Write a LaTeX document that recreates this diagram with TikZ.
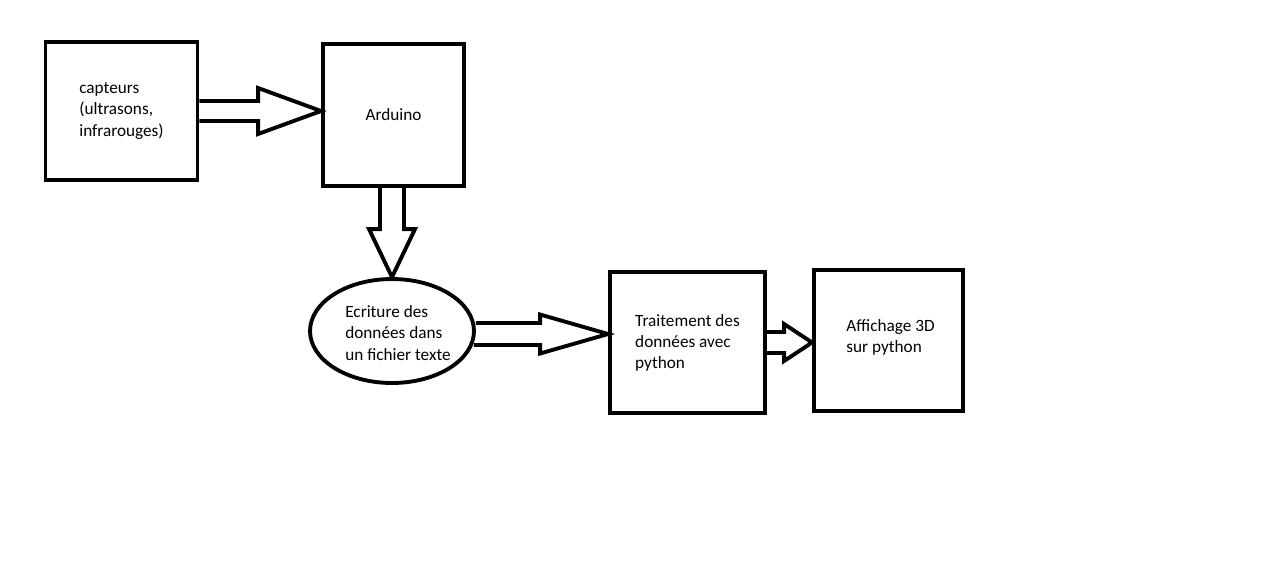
\documentclass[tikz,border=0pt]{standalone}
\usepackage{fontspec}
\setmainfont{Carlito}
\usetikzlibrary{calc,shapes.geometric}
\begin{document}
\begin{tikzpicture}[x=0.02cm, y=-0.02cm, line width=2.2pt, line join=miter,
    box/.style={draw, rectangle, inner sep=0pt, align=left,
      font=\fontsize{9.8}{12}\selectfont},
    oval/.style={draw, ellipse, inner sep=0pt, minimum width=3.28cm, minimum height=2.08cm},
    txt/.style={align=left, inner sep=0pt, font=\fontsize{9.8}{12}\selectfont},
    harrow/.style={draw, line width=2.2pt}]
  \useasboundingbox (0,0) rectangle (1280,575);
  \node[box, minimum width=3.04cm, minimum height=2.76cm] (capteurs) at (121.5,111)
    {capteurs\\(ultrasons,\\infrarouges)};
  \node[box, minimum width=2.82cm, minimum height=2.84cm] (arduino) at (393.5,115) {Arduino};
  \node[oval] (ecriture) at (392,331) {};
  \node[txt] at ($(ecriture)+(6,2)$) {Ecriture des\\données dans\\un fichier texte};
  \node[box, minimum width=3.10cm, minimum height=2.82cm] (traitement) at (687.5,342.5)
    {Traitement des\\données avec\\python};
  \node[box, minimum width=2.98cm, minimum height=2.82cm] (affichage) at (888.5,340.5) {};
  \node[txt] at ($(affichage)+(2,-3.5)$) {Affichage 3D\\sur python};
  \coordinate (t1) at (arduino.west |- capteurs.east);
  \draw[harrow] ($(capteurs.east)+(0,-10)$) -- ($(t1)+(-63,-10)$) -- ++(0,-13) -- (t1)
    -- ++(-63,23) -- ++(0,-13) -- ($(capteurs.east)+(0,10)$);
  \coordinate (t2) at (ecriture.north);
  \coordinate (s2) at (t2 |- arduino.south);
  \draw[harrow] ($(s2)+(-12,0)$) -- ($(t2)+(-12,-48)$) -- ++(-11,0) -- (t2)
    -- ++(23,-48) -- ++(-11,0) -- ($(s2)+(12,0)$);
  \coordinate (t3) at ($(traitement.west |- ecriture.east)+(0,3)$);
  \draw[harrow] ($(ecriture.east)+(0,-8)$) -- ($(t3)+(-68,-11)$) -- ++(0,-8.5) -- (t3)
    -- ++(-68,19.5) -- ++(0,-8.5) -- ($(ecriture.east)+(-2,14)$);
  \coordinate (t4) at (affichage.west |- traitement.east);
  \draw[harrow] ($(traitement.east)+(0,-10.5)$) -- ($(t4)+(-28,-10.5)$) -- ++(0,-8) -- (t4)
    -- ++(-28,18.5) -- ++(0,-8) -- ($(traitement.east)+(0,10.5)$);
\end{tikzpicture}
\end{document}
